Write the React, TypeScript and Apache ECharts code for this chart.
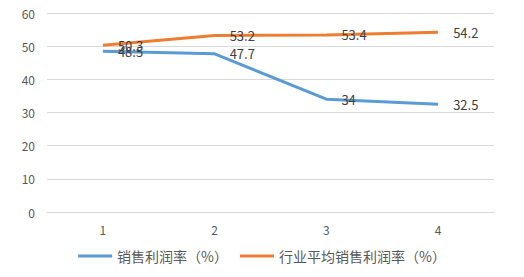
import React, { useEffect, useRef } from "react";
import * as echarts from "echarts";

const categories = ["1", "2", "3", "4"];
const salesMargin = [48.5, 47.7, 34, 32.5];
const industryMargin = [50.3, 53.2, 53.4, 54.2];
const seriesNames = ["销售利润率（%）", "行业平均销售利润率（%）"];

export default function App() {
  const ref = useRef<HTMLDivElement>(null);
  useEffect(() => {
    const chart = echarts.init(ref.current!, null, { renderer: "svg" });
    const font = "'Noto Sans CJK SC', 'Microsoft YaHei', sans-serif";
    const label = {
      show: true,
      position: "right" as const,
      distance: 15,
      color: "#404040",
      fontSize: 13,
      fontFamily: font,
    };
    chart.setOption({
      animation: false,
      textStyle: { fontFamily: font },
      grid: { left: 47, right: 30, top: 13, bottom: 65 },
      legend: {
        bottom: 9,
        left: "center",
        icon: "rect",
        itemWidth: 34,
        itemHeight: 3,
        itemGap: 12,
        textStyle: { color: "#595959", fontSize: 14, fontFamily: font },
        data: seriesNames,
      },
      xAxis: {
        type: "category",
        data: categories,
        boundaryGap: true,
        axisLine: { show: true, lineStyle: { color: "#D9D9D9" } },
        axisTick: { show: false },
        axisLabel: { color: "#595959", fontSize: 12, margin: 11, fontFamily: font },
      },
      yAxis: {
        type: "value",
        min: 0,
        max: 60,
        interval: 10,
        axisLine: { show: false },
        axisTick: { show: false },
        axisLabel: { color: "#595959", fontSize: 12, margin: 12, fontFamily: font },
        splitLine: { lineStyle: { color: "#D9D9D9", width: 1 } },
      },
      series: [
        {
          name: seriesNames[0],
          type: "line",
          data: salesMargin,
          symbol: "circle",
          symbolSize: 0,
          showSymbol: true,
          lineStyle: { color: "#5B9BD5", width: 3 },
          itemStyle: { color: "#5B9BD5" },
          label,
        },
        {
          name: seriesNames[1],
          type: "line",
          data: industryMargin,
          symbol: "circle",
          symbolSize: 0,
          showSymbol: true,
          lineStyle: { color: "#ED7D31", width: 3 },
          itemStyle: { color: "#ED7D31" },
          label,
        },
      ],
    });
    return () => chart.dispose();
  }, []);
  return (
    <div
      ref={ref}
      style={{ position: "absolute", left: 0, top: 0, width: 524, height: 277 }}
    />
  );
}
